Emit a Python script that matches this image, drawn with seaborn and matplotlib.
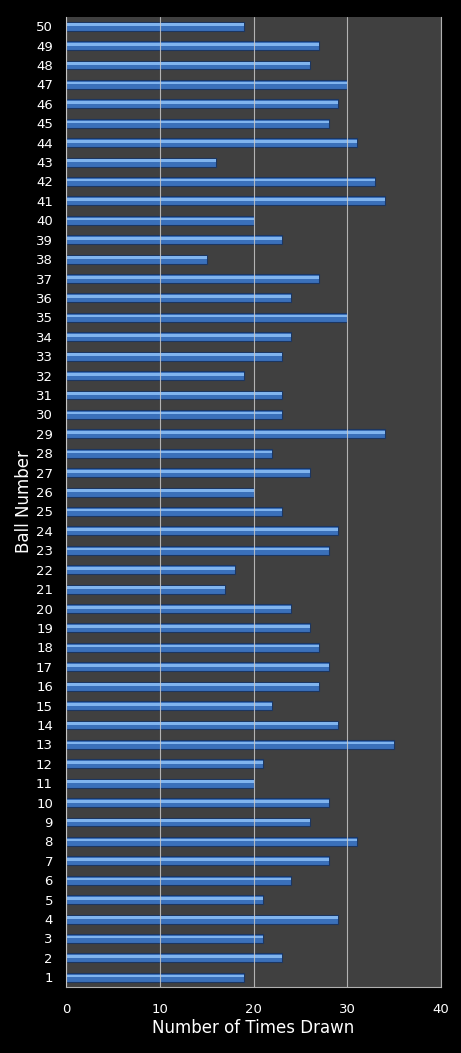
import matplotlib
matplotlib.use("Agg")
import matplotlib.pyplot as plt
import seaborn as sns
import pandas as pd

# ball numbers and how many times each was drawn
balls = [str(b) for b in range(1, 51)]
times_drawn = [19, 23, 21, 29, 21, 24, 28, 31, 26, 28,
               20, 21, 35, 29, 22, 27, 28, 27, 26, 24,
               17, 18, 28, 29, 23, 20, 26, 22, 34, 23,
               23, 19, 23, 24, 30, 24, 27, 15, 23, 20,
               34, 33, 16, 31, 28, 29, 30, 26, 27, 19]
x_ticks = [0, 10, 20, 30, 40]

df = pd.DataFrame({"ball": balls, "drawn": times_drawn})
order = balls[::-1]  # 50 at the top

sns.set_style("dark")
plt.rcParams['font.family'] = ['DejaVu Sans']

fig = plt.figure(figsize=(4.61, 10.53), dpi=100, facecolor="black")
ax = fig.add_axes([66/461, 1 - 987/1053, 375/461, (987 - 16.5)/1053])
ax.set_facecolor("#404040")

# main bar
sns.barplot(data=df, x="drawn", y="ball", order=order, orient="h",
            color="#3a70ba", saturation=1, width=0.46,
            edgecolor="#1c3660", linewidth=0.8, ax=ax)
# highlight stripe to mimic the glossy cylinder look
sns.barplot(data=df, x="drawn", y="ball", order=order, orient="h",
            color="#80b4ee", saturation=1, width=0.14,
            linewidth=0, ax=ax)
for p in ax.patches[len(balls):]:
    p.set_y(p.get_y() - 0.07)

ax.set_xlim(0, 40)
ax.set_ylim(len(balls) - 0.5, -0.5)
ax.set_xticks(x_ticks)
ax.set_xticklabels([str(t) for t in x_ticks])
ax.xaxis.grid(True, color="#c8c8c8", linewidth=0.8, alpha=0.85)
ax.yaxis.grid(False)
ax.set_axisbelow(False)

ax.tick_params(axis="both", colors="white", labelsize=9.5, length=0)
ax.tick_params(axis="x", pad=11.5)
ax.tick_params(axis="y", pad=9.4)

ax.set_xlabel("Number of Times Drawn", color="white", fontsize=12, labelpad=2)
ax.set_ylabel("Ball Number", color="white", fontsize=12, labelpad=2)

ax.spines["top"].set_visible(False)
for side in ["left", "bottom", "right"]:
    ax.spines[side].set_visible(True)
    ax.spines[side].set_color("#b0b0b0")
    ax.spines[side].set_linewidth(0.8)

fig.savefig("out.png", dpi=100, facecolor="black")
